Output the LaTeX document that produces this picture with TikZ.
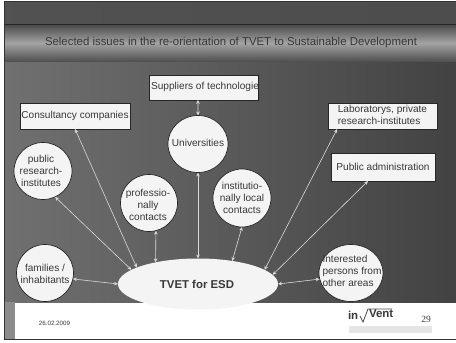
\documentclass[tikz,border=0pt]{standalone}
\usepackage{fontspec}
\setmainfont{Liberation Sans}
\usetikzlibrary{shapes.geometric,arrows.meta}
\definecolor{ink}{gray}{0.22}
\definecolor{paper}{gray}{0.955}
\tikzset{
  x=1pt,y=-1pt,
  every node/.style={outer sep=0pt,inner sep=0pt,text=ink,font=\fontsize{10.1}{11.9}\selectfont,align=center},
  box/.style={draw=black!85,line width=0.7pt,fill=paper,rectangle},
  disc/.style={draw=black!85,line width=0.7pt,fill=paper,ellipse},
  link/.style={draw=white!85!black,line width=0.6pt,{Stealth[length=4pt,width=3.6pt]}-{Stealth[length=4pt,width=3.6pt]}}
}
\begin{document}
\begin{tikzpicture}
\useasboundingbox (0,0) rectangle (456,343);
\fill[white] (0,0) rectangle (456,343);
% slide bands
\shade[left color=black!68,right color=black!70] (4,1) rectangle (456,25);
\shade[left color=black!56,right color=black!74] (4,61) rectangle (456,302);
\shade[top color=black!70,bottom color=black!36] (4,25) rectangle (456,43);
\shade[top color=black!36,bottom color=black!68] (4,43) rectangle (456,61);
\draw[black!85,line width=0.7pt] (4,24.5) -- (456,24.5);
\fill[black!45] (5,302) rectangle (15,339);
\draw[black!80,line width=1pt] (456,1) -- (4.5,1) -- (4.5,339.5) -- (456,339.5);
\node (title) at (231,43) {\fontsize{11.4}{13}\selectfont Selected issues in the re-orientation of TVET to Sustainable Development};
% nodes
\node[box,minimum width=109pt,minimum height=25pt] (supp) at (203.5,87.5) {};
\node (supptext) at (205,86.5) {Suppliers of technologie};
\node[box,minimum width=110pt,minimum height=26pt] (cons) at (75,116) {Consultancy companies};
\node[box,minimum width=109pt,minimum height=26pt] (lab) at (382.5,116) {\begin{tabular}{@{}l@{}}Laboratorys, private\\research-institutes\end{tabular}};
\node[box,minimum width=104pt,minimum height=28pt] (admin) at (383,167) {Public administration};
\node[disc,minimum width=60pt,minimum height=57pt] (univ) at (198,144) {};
\node (univtext) at (198,143) {Universities};
\node[disc,minimum width=58pt,minimum height=57pt] (publ) at (43,171) {};
\node (publtext) at (41,171) {public\\research-\\institutes};
\node[disc,minimum width=57pt,minimum height=57pt] (prof) at (149,203) {};
\node (proftext) at (148,205) {professio-\\nally\\contacts};
\node[disc,minimum width=58pt,minimum height=58pt] (inst) at (242,198) {};
\node (insttext) at (242,198) {institutio-\\nally local\\contacts};
\node[disc,minimum width=57pt,minimum height=57pt] (fam) at (45,273) {};
\node (famtext) at (45,274) {families /\\inhabitants};
\node[disc,minimum width=64pt,minimum height=57pt] (inter) at (351,273) {};
\node (intertext) at (352,272) {\begin{tabular}{@{}l@{}}Interested\\persons from\\other areas\end{tabular}};
\node[ellipse,fill=paper,minimum width=160pt,minimum height=51pt] (tvet) at (198,284) {};
\node (tvettext) at (197,284) {\fontsize{11.4}{13}\selectfont\bfseries TVET for ESD};
% connectors
\draw[link] (cons.south) -- (tvet.165);
\draw[link] (univ.north) -- (supp.246);
\draw[link] (publ.-65) -- (tvet.168);
\draw[link] (prof.-76) -- (tvet.153);
\draw[link] (univ.south) -- (tvet.north);
\draw[link] (inst.-90) -- (tvet.34);
\draw[link] (lab.196) -- (tvet.12);
\draw[link] (admin.223) -- (tvet.7);
\draw[link] (fam.-12) -- (tvet.west);
\draw[link] (inter.191) -- (tvet.east);
% footer
\node (date) at (54.5,323.5) {\fontsize{6.2}{7}\selectfont 26.02.2009};
\fill[black!10] (349,326) rectangle (432,333);
\node[anchor=west] (logoa) at (348,315) {\fontsize{11.5}{12}\selectfont\bfseries in};
\node[anchor=west] (logob) at (369,314) {\fontsize{11.5}{12}\selectfont\bfseries Vent};
\draw[black!70,line width=0.8pt] (360,316) -- (363,322) -- (368,309) -- (392,309);
\node (page) at (426,319) {\fontspec{Liberation Serif}\fontsize{9.5}{10}\selectfont 29};
\end{tikzpicture}
\end{document}
